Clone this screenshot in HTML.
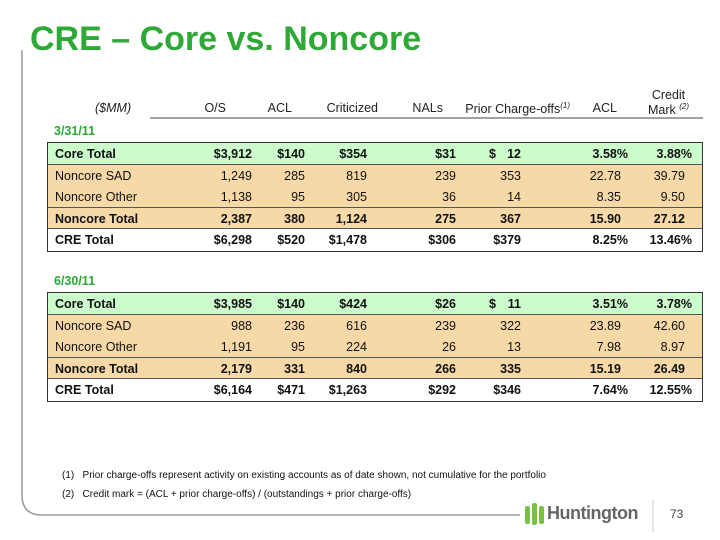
<!DOCTYPE html>
<html><head><style>
body{margin:0;width:720px;height:540px;background:#fff;position:relative;font-family:"Liberation Sans",Arial,sans-serif;overflow:hidden}
.a{position:absolute;white-space:nowrap}
.title{left:30px;top:20px;font-size:34px;font-weight:bold;color:#2ea836}
.h{font-size:12.5px;color:#222;text-align:right}
.g{color:#2ea836;font-weight:bold;font-size:12.5px}
.tbl{position:absolute;left:47px;width:656px;border:1px solid #333;box-sizing:border-box}
.r{height:21.6px;position:relative;font-size:12.5px;color:#111;border-bottom:1px solid #555;box-sizing:border-box}
.r:last-child{border-bottom:none}
.r span{position:absolute;top:4px}
.c{background:#ccfccc}.n{background:#f7d9a8;border-bottom:none}.n2{background:#f7d9a8}.w{background:#fff}
.b{font-weight:bold}
</style></head><body>
<svg class="a" style="left:0;top:0" width="720" height="540"><path d="M22 50 L22 495 Q22 515 42 515 L520 515" fill="none" stroke="#999" stroke-width="1.5"/><line x1="150" y1="118" x2="703" y2="118" stroke="#444" stroke-width="1"/><line x1="653" y1="500" x2="653" y2="532" stroke="#ccc"/>
<g fill="#7ac143"><rect x="525" y="506" width="5" height="18" rx="2"/><rect x="532" y="503" width="5" height="22" rx="2"/><rect x="539" y="506" width="5" height="18" rx="2"/></g></svg>
<div class="a title">CRE – Core vs. Noncore</div>
<div class="a h" style="left:95px;top:101px;font-style:italic">($MM)</div>
<div class="a h" style="right:494px;top:101px">O/S</div>
<div class="a h" style="right:428px;top:101px">ACL</div>
<div class="a h" style="right:342px;top:101px">Criticized</div>
<div class="a h" style="right:277px;top:101px">NALs</div>
<div class="a h" style="right:150px;top:101px">Prior Charge-offs<sup style="font-size:8px;font-style:italic">(1)</sup></div>
<div class="a h" style="right:103px;top:101px">ACL</div>
<div class="a h" style="right:31px;top:88px;text-align:center">Credit<br>Mark <sup style="font-size:8px;font-style:italic">(2)</sup></div>
<div class="a g" style="left:54px;top:124px">3/31/11</div>
<div class="a g" style="left:54px;top:274px">6/30/11</div>
<div class="tbl" style="top:142px">
<div class="r c b"><span style="left:7px">Core Total</span><span style="right:450px">$3,912</span><span style="right:397px">$140</span><span style="right:335px">$354</span><span style="right:246px">$31</span><span style="left:441px">$</span><span style="right:181px">12</span><span style="right:74px">3.58%</span><span style="right:10px">3.88%</span></div>
<div class="r n"><span style="left:7px">Noncore SAD</span><span style="right:450px">1,249</span><span style="right:397px">285</span><span style="right:335px">819</span><span style="right:246px">239</span><span style="right:181px">353</span><span style="right:81px">22.78</span><span style="right:17px">39.79</span></div>
<div class="r n2"><span style="left:7px">Noncore Other</span><span style="right:450px">1,138</span><span style="right:397px">95</span><span style="right:335px">305</span><span style="right:246px">36</span><span style="right:181px">14</span><span style="right:81px">8.35</span><span style="right:17px">9.50</span></div>
<div class="r n2 b"><span style="left:7px">Noncore Total</span><span style="right:450px">2,387</span><span style="right:397px">380</span><span style="right:335px">1,124</span><span style="right:246px">275</span><span style="right:181px">367</span><span style="right:81px">15.90</span><span style="right:17px">27.12</span></div>
<div class="r w b"><span style="left:7px">CRE Total</span><span style="right:450px">$6,298</span><span style="right:397px">$520</span><span style="right:335px">$1,478</span><span style="right:246px">$306</span><span style="right:181px">$379</span><span style="right:74px">8.25%</span><span style="right:10px">13.46%</span></div>
</div>
<div class="tbl" style="top:292px">
<div class="r c b"><span style="left:7px">Core Total</span><span style="right:450px">$3,985</span><span style="right:397px">$140</span><span style="right:335px">$424</span><span style="right:246px">$26</span><span style="left:441px">$</span><span style="right:181px">11</span><span style="right:74px">3.51%</span><span style="right:10px">3.78%</span></div>
<div class="r n"><span style="left:7px">Noncore SAD</span><span style="right:450px">988</span><span style="right:397px">236</span><span style="right:335px">616</span><span style="right:246px">239</span><span style="right:181px">322</span><span style="right:81px">23.89</span><span style="right:17px">42.60</span></div>
<div class="r n2"><span style="left:7px">Noncore Other</span><span style="right:450px">1,191</span><span style="right:397px">95</span><span style="right:335px">224</span><span style="right:246px">26</span><span style="right:181px">13</span><span style="right:81px">7.98</span><span style="right:17px">8.97</span></div>
<div class="r n2 b"><span style="left:7px">Noncore Total</span><span style="right:450px">2,179</span><span style="right:397px">331</span><span style="right:335px">840</span><span style="right:246px">266</span><span style="right:181px">335</span><span style="right:81px">15.19</span><span style="right:17px">26.49</span></div>
<div class="r w b"><span style="left:7px">CRE Total</span><span style="right:450px">$6,164</span><span style="right:397px">$471</span><span style="right:335px">$1,263</span><span style="right:246px">$292</span><span style="right:181px">$346</span><span style="right:74px">7.64%</span><span style="right:10px">12.55%</span></div>
</div>
<div class="a" style="left:62px;top:470px;font-size:10px;color:#111">(1)&nbsp;&nbsp;&nbsp;Prior charge-offs represent activity on existing accounts as of date shown, not cumulative for the portfolio</div>
<div class="a" style="left:62px;top:489px;font-size:10px;color:#111">(2)&nbsp;&nbsp;&nbsp;Credit mark = (ACL + prior charge-offs) / (outstandings + prior charge-offs)</div>
<div class="a" style="left:547px;top:503px;font-size:18px;font-weight:bold;color:#666;letter-spacing:-0.5px">Huntington</div>
<div class="a" style="left:670px;top:507px;font-size:12px;color:#444">73</div>
</body></html>
